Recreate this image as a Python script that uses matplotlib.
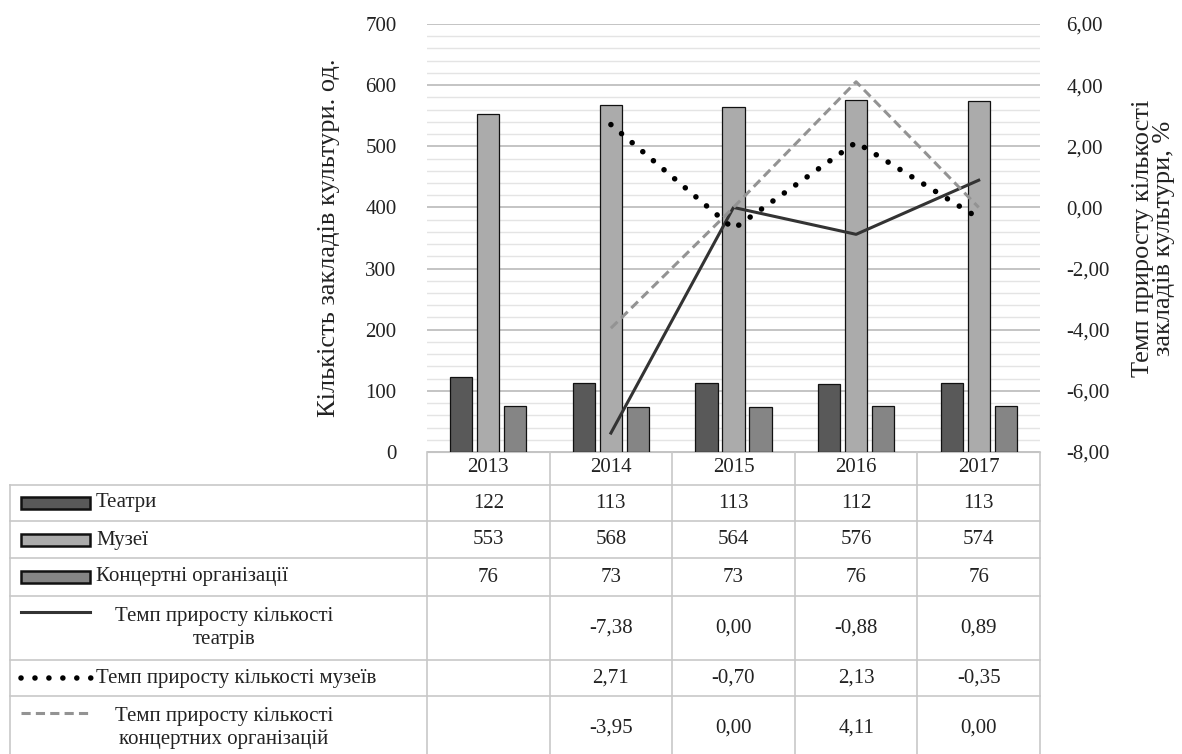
import matplotlib
matplotlib.use("Agg")
import matplotlib.pyplot as plt
from matplotlib.patches import Rectangle
from matplotlib.lines import Line2D
import numpy as np

plt.rcParams['font.family'] = ['Liberation Serif', 'DejaVu Serif']

years = ["2013", "2014", "2015", "2016", "2017"]
theatres = [122, 113, 113, 112, 113]
museums = [553, 568, 564, 576, 574]
concerts = [76, 73, 73, 76, 76]
growth_theatres = [None, -7.38, 0.00, -0.88, 0.89]
growth_museums = [None, 2.71, -0.70, 2.13, -0.35]
growth_concerts = [None, -3.95, 0.00, 4.11, 0.00]

bar_labels = ["Театри", "Музеї", "Концертні організації"]
line_labels = ["Темп приросту кількості\nтеатрів",
               "Темп приросту кількості музеїв",
               "Темп приросту кількості\nконцертних організацій"]
left_title = "Кількість закладів культури. од."
right_title = "Темп приросту кількості\nзакладів культури, %"

bar_colors = ["#595959", "#ababab", "#858585"]
line_styles = [dict(color="#333333", lw=2.2, ls="-"),
               dict(color="#000000", lw=4.0, ls=(0, (0.01, 2.5)), dash_capstyle="round"),
               dict(color="#939393", lw=2.2, ls=(0, (3.0, 1.7)))]

W, H = 1182, 754
fig = plt.figure(figsize=(W / 100, H / 100), dpi=100)

def fx(px):
    return px / W

def fy(py):
    return 1 - py / H

x0, x1 = 427, 1040
ytop, ybot = 24, 452
ax = fig.add_axes([fx(x0), fy(ybot), fx(x1 - x0), (ybot - ytop) / H])
ax2 = ax.twinx()

n = len(years)
x = np.arange(n)
bw = 0.18
step = 0.22
for i, (vals, col) in enumerate(zip([theatres, museums, concerts], bar_colors)):
    ax.bar(x + (i - 1) * step, vals, width=bw, color=col, edgecolor="#111111",
           linewidth=0.9, zorder=3)

fs = 15
ax.set_xlim(-0.5, n - 0.5)
ax.set_ylim(0, 700)
ax.set_yticks(np.arange(0, 701, 100))
ax.set_yticks(np.arange(0, 701, 20), minor=True)
ax.grid(axis="y", which="major", color="#c4c4c4", lw=1.4, zorder=0)
ax.grid(axis="y", which="minor", color="#e4e4e4", lw=1.0, zorder=0)
ax.set_axisbelow(True)
ax.set_xticks([])
for s in ax.spines.values():
    s.set_visible(False)
ax.spines["bottom"].set_visible(True)
ax.spines["bottom"].set_color("#c4c4c4")
ax.tick_params(axis="y", which="both", length=0, labelsize=fs, pad=22,
               labelcolor="#222222")
ax.set_ylabel(left_title, fontsize=19, labelpad=18, color="#222222")

for vals, st in zip([growth_theatres, growth_museums, growth_concerts], line_styles):
    xs = [xi for xi, v in zip(x, vals) if v is not None]
    vs = [v for v in vals if v is not None]
    ax2.plot(xs, vs, zorder=4, **st)
ax2.set_ylim(-8, 6)
ax2.set_yticks(np.arange(-8, 6.1, 2))
ax2.set_yticklabels([f"{v:.2f}".replace(".", ",") for v in np.arange(-8, 6.1, 2)])
ax2.tick_params(axis="y", length=0, labelsize=fs, pad=19, labelcolor="#222222")
for s in ax2.spines.values():
    s.set_visible(False)
ax2.set_ylabel(right_title, fontsize=19, labelpad=16, color="#222222",
               linespacing=0.95)

# data table below the plot
grid_col = "#c8c8c8"
col_edges = [x0 + (x1 - x0) * k / n for k in range(n + 1)]
row_edges = [452, 485, 521, 558, 596, 660, 696, 764]
tl = 10

def hline(y, xa, xb):
    fig.add_artist(Line2D([fx(xa), fx(xb)], [fy(y), fy(y)], color=grid_col, lw=1.2))

def vline(xp, ya, yb):
    fig.add_artist(Line2D([fx(xp), fx(xp)], [fy(ya), fy(yb)], color=grid_col, lw=1.2))

for y in row_edges[1:]:
    hline(y, tl, x1)
for ce in col_edges:
    vline(ce, row_edges[0], H)
vline(tl, row_edges[1], H)

for k, yr in enumerate(years):
    cx = (col_edges[k] + col_edges[k + 1]) / 2
    fig.text(fx(cx), fy(468), yr, ha="center", va="center", fontsize=fs,
             color="#222222")

def fmt(v):
    if v is None:
        return ""
    return f"{v:.2f}".replace(".", ",")

row_centres = [503, 540, 577, 628, 678, 728]
rows = [theatres, museums, concerts, growth_theatres, growth_museums, growth_concerts]
for r, vals in enumerate(rows):
    cy = row_centres[r]
    for k, v in enumerate(vals):
        cx = (col_edges[k] + col_edges[k + 1]) / 2
        txt = str(v) if r < 3 else fmt(v)
        fig.text(fx(cx), fy(cy), txt, ha="center", va="center", fontsize=fs,
                 color="#222222")

# legend keys and names in the first column
kx0, kx1 = 21, 90
for r in range(3):
    cy = row_centres[r]
    fig.add_artist(Rectangle((fx(kx0), fy(cy + 6)), fx(kx1 - kx0), 12 / H,
                             transform=fig.transFigure, facecolor=bar_colors[r],
                             edgecolor="#111111", lw=1.8))
    fig.text(fx(kx1 + 6), fy(cy), bar_labels[r], ha="left", va="center",
             fontsize=fs, color="#222222")

key_y = [612, 678, 713]
for r in range(3):
    cy = row_centres[r + 3]
    ky = key_y[r]
    kend = kx1 + 2 if r == 1 else kx1
    fig.add_artist(Line2D([fx(kx0), fx(kend)], [fy(ky), fy(ky)], **line_styles[r]))
    if r == 1:
        fig.text(fx(kx1 + 6), fy(cy), line_labels[r], ha="left", va="center",
                 fontsize=fs, color="#222222")
    else:
        fig.text(fx(224), fy(cy), line_labels[r], ha="center", va="center",
                 fontsize=fs, color="#222222", linespacing=1.25)

fig.savefig("out.png", dpi=100)
